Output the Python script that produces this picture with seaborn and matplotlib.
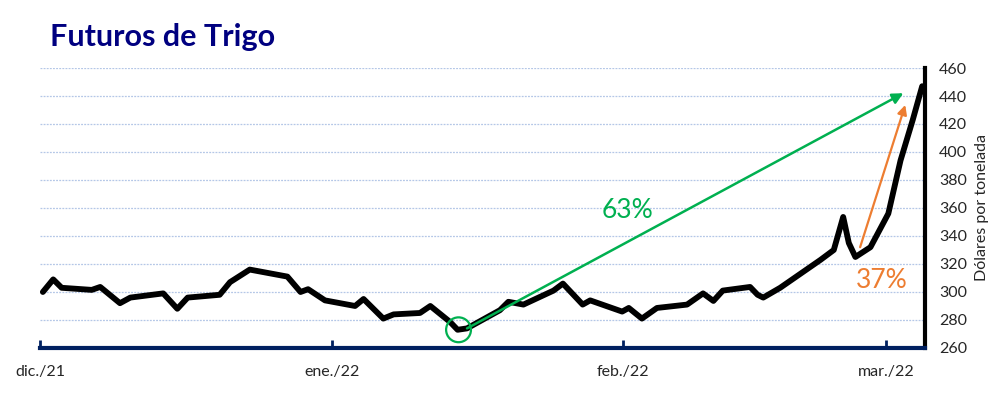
import pandas as pd
import seaborn as sns
import matplotlib.pyplot as plt

# ----------------------------------------------------
# data (days since 1 Dec 2021, USD/t)
# ----------------------------------------------------
day = [0.3, 1.4, 2.3, 5.5, 6.4, 8.5, 9.6, 13.1, 14.6, 15.7, 19.1, 20.2, 22.3,
       26.3, 27.7, 28.5, 30.3, 33.5, 34.4, 36.5, 37.6, 40.4, 41.5, 43.6, 44.4,
       45.4, 48.9, 49.8, 51.4, 54.6, 55.6, 57.7, 58.5, 61.9, 62.6, 64.0, 65.6,
       68.8, 70.5, 71.6, 72.6, 75.5, 76.3, 76.9, 78.7, 83.0, 84.4, 85.4, 86.0,
       86.7, 88.3, 90.2, 91.5, 92.8, 93.8]
price = [300, 309, 303, 301.5, 303.6, 292, 296, 299, 288, 296, 298, 307, 316,
         311, 300, 302, 294, 290, 295, 281, 284, 285, 290, 278.6, 273,
         274, 287, 293, 291, 301, 306, 291, 294, 286, 288.6, 281, 288.6,
         291, 299, 293.6, 301, 303.6, 298, 296, 303, 323, 330, 353.6, 335,
         325, 332, 356, 394, 423, 447]

month_pos = [0, 31, 62, 90]
month_labels = ["dic./21", "ene./22", "feb./22", "mar./22"]
y_ticks = list(range(260, 461, 20))

# annotations: low point, arrows and percentages
low_point = (44.5, 273)
green_arrow = [(45.4, 274), (91.8, 442)]
orange_arrow = [(87.2, 332), (92.0, 433.6)]
green_label = (62.5, 358, "63%")
orange_label = (89.5, 308, "37%")

df = pd.DataFrame({"day": day, "price": price})

sns.set_style("white")
plt.rcParams["font.family"] = ["Lato", "DejaVu Sans"]

navy = "#002060"
green = "#00b050"
orange = "#ed7d31"

fig = plt.figure(figsize=(9.91, 3.94), dpi=100)
ax = fig.add_axes([0.0404, 0.1168, 0.893, 0.7106])

# gridlines
for v in y_ticks[1:]:
    ax.axhline(v, color="#b4c7e7", lw=0.9, ls=(0, (1.5, 1)), zorder=0)

sns.lineplot(data=df, x="day", y="price", color="black", lw=4.2, ax=ax,
             solid_capstyle="round", solid_joinstyle="round", zorder=3)

ax.annotate("", xy=green_arrow[1], xytext=green_arrow[0],
            arrowprops=dict(arrowstyle="-|>", color=green, lw=1.8,
                            mutation_scale=16, shrinkA=0, shrinkB=0), zorder=4)
ax.annotate("", xy=orange_arrow[1], xytext=orange_arrow[0],
            arrowprops=dict(arrowstyle="-|>", color=orange, lw=1.6,
                            mutation_scale=14, shrinkA=0, shrinkB=0), zorder=4)
ax.scatter([low_point[0]], [low_point[1]], s=320, facecolors="none",
           edgecolors=green, linewidths=1.6, zorder=5)

ax.text(green_label[0], green_label[1], green_label[2], color=green,
        fontsize=19, ha="center", va="center")
ax.text(orange_label[0], orange_label[1], orange_label[2], color=orange,
        fontsize=19, ha="center", va="center")

ax.set_xlim(0, 94.1)
ax.set_ylim(260, 460)
ax.set_xticks(month_pos)
ax.set_xticklabels(month_labels, fontsize=11.5)
ax.set_yticks(y_ticks)
ax.yaxis.tick_right()
ax.yaxis.set_label_position("right")
ax.tick_params(axis="y", length=0, pad=10, labelsize=11.5)
ax.tick_params(axis="x", bottom=True, direction="in", length=6, width=2,
               color=navy, pad=12)
ax.set_xlabel("")
ax.set_ylabel("Dólares por tonelada", fontsize=11.5, labelpad=6)

for s in ["top", "left"]:
    ax.spines[s].set_visible(False)
ax.spines["bottom"].set_color(navy)
ax.spines["bottom"].set_linewidth(3)
ax.spines["right"].set_color("black")
ax.spines["right"].set_linewidth(3)

fig.text(0.05, 0.905, "Futuros de Trigo", color="#000080", fontsize=22,
         fontweight="bold", ha="left", va="center")

plt.savefig("out.png", dpi=100)
plt.close()
